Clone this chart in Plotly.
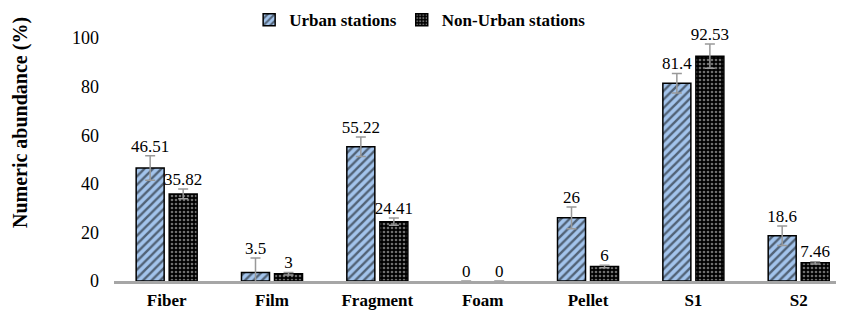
import plotly.graph_objects as go

categories = ["Fiber", "Film", "Fragment", "Foam", "Pellet", "S1", "S2"]
urban = [46.51, 3.5, 55.22, 0, 26, 81.4, 18.6]
non_urban = [35.82, 3, 24.41, 0, 6, 92.53, 7.46]
urban_err = [5, 6, 4, 0, 4.5, 4, 4]
non_urban_err = [2, 0.5, 1.5, 0, 0.5, 5, 0.5]
urban_labels = ["46.51", "3.5", "55.22", "0", "26", "81.4", "18.6"]
non_urban_labels = ["35.82", "3", "24.41", "0", "6", "92.53", "7.46"]
y_ticks = [0, 20, 40, 60, 80, 100]

FONT = "Liberation Serif, Times New Roman, serif"
idx = list(range(len(categories)))
GAP = 0.373

fig = go.Figure()
fig.add_trace(go.Bar(
    x=idx, y=urban, name="Urban stations",
    offsetgroup="u", alignmentgroup="a",
    marker=dict(color="#8fb4e3",
                line=dict(color="black", width=[0 if v == 0 else 1.5 for v in urban]),
                pattern=dict(shape="/", fgcolor="black", bgcolor="#a3c4ec",
                             size=6, solidity=0.4)),
    error_y=dict(type="data", array=urban_err, color="#999999", thickness=1.5, width=5),
))
fig.add_trace(go.Bar(
    x=idx, y=non_urban, name="Non-Urban stations",
    offsetgroup="n", alignmentgroup="a",
    marker=dict(color="black",
                line=dict(color="black", width=[0 if v == 0 else 1.5 for v in non_urban]),
                pattern=dict(shape=".", fgcolor="#dddddd", bgcolor="black",
                             size=4, solidity=0.35)),
    error_y=dict(type="data", array=non_urban_err, color="#999999", thickness=1.5, width=5),
))
fig.add_trace(go.Scatter(
    x=idx, y=[v + e for v, e in zip(urban, urban_err)], mode="text",
    text=urban_labels, textposition="top center", showlegend=False,
    offsetgroup="u", alignmentgroup="a",
    textfont=dict(family=FONT, size=17, color="black"), cliponaxis=False,
    hoverinfo="skip",
))
fig.add_trace(go.Scatter(
    x=idx, y=[v + e for v, e in zip(non_urban, non_urban_err)], mode="text",
    text=non_urban_labels, textposition="top center", showlegend=False,
    offsetgroup="n", alignmentgroup="a",
    textfont=dict(family=FONT, size=17, color="black"), cliponaxis=False,
    hoverinfo="skip",
))

fig.update_layout(
    width=836, height=303,
    margin=dict(l=106, r=0, t=30, b=30, autoexpand=False),
    barmode="group", bargap=GAP, bargroupgap=0.152,
    scattermode="group", scattergap=GAP,
    plot_bgcolor="white", paper_bgcolor="white",
    font=dict(family=FONT, color="black"),
    showlegend=True,
    legend=dict(orientation="h", xref="container", yref="container",
                x=0.493, y=0.960, xanchor="center", yanchor="middle",
                font=dict(family=FONT, size=17, color="black", weight="bold"),
                itemwidth=30, tracegroupgap=0),
    xaxis=dict(range=[-0.5, 6.43], tickmode="array", tickvals=idx,
               ticktext=[f"<b>{c}</b>" for c in categories],
               tickfont=dict(family=FONT, size=17, color="black"),
               showline=True, linecolor="#a6a6a6", linewidth=3,
               showgrid=False, zeroline=False, ticks="", ticklabelstandoff=2),
    yaxis=dict(range=[0, 100], tickmode="array", tickvals=y_ticks,
               tickfont=dict(family=FONT, size=18, color="black"),
               showgrid=False, zeroline=False, showline=False, ticks="",
               ticklabelstandoff=14),
    annotations=[dict(text="<b>Numeric abundance (%)</b>", textangle=-90,
                      xref="paper", yref="paper", x=-0.1288, y=0.654,
                      xanchor="center", yanchor="middle", showarrow=False,
                      font=dict(family=FONT, size=20, color="black"))],
)

fig.write_html("out.html")
